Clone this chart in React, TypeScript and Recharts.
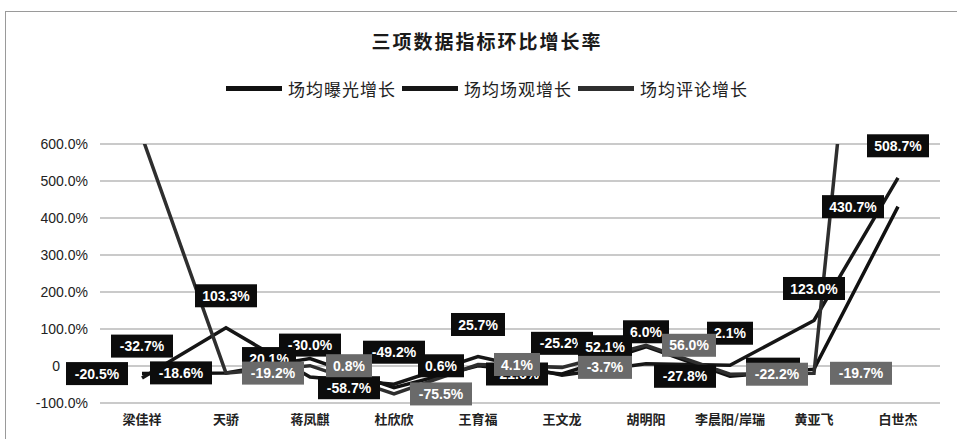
import { LineChart, Line, XAxis, YAxis, CartesianGrid, Legend, LabelList } from 'recharts'

const categories = ['梁佳祥', '天骄', '蒋凤麒', '杜欣欣', '王育福', '王文龙', '胡明阳', '李晨阳/岸瑞', '黄亚飞', '白世杰']
// 环比增长率 (%)
const exposureGrowth = [-20.5, -18.6, 20.1, -58.7, 0.6, -21.6, 52.1, -27.8, -8.5, 430.7]
const viewGrowth = [-32.7, 103.3, -30.0, -49.2, 25.7, -25.2, 6.0, 2.1, 123.0, 508.7]
const commentGrowth = [620, -19.2, 0.8, -75.5, 4.1, -3.7, 56.0, -22.2, -19.7, 2200]
const yTicks = [-100, 0, 100, 200, 300, 400, 500, 600]

const SERIES = [
  { key: 'exposure', name: '场均曝光增长', color: '#111', labelFill: '#0c0c0c', side: 'left' },
  { key: 'view', name: '场均场观增长', color: '#161616', labelFill: '#0c0c0c', side: 'top' },
  { key: 'comment', name: '场均评论增长', color: '#2e2e2e', labelFill: '#6a6a6a', side: 'right' },
] as const

const data = categories.map((name, i) => ({
  name,
  exposure: exposureGrowth[i],
  view: viewGrowth[i],
  comment: commentGrowth[i],
}))

const CJK = '"Noto Sans CJK SC", sans-serif'
const LATIN = '"Liberation Sans", Arial, sans-serif'

const makeLabel = (side: string, fill: string) => (props: any) => {
  const { x, y, value } = props
  if (value == null || value > 600 || value < -100) return null
  const text = `${Number(value).toFixed(1)}%`
  const w = text.length * 8 + 14
  const h = 23
  let cx = x
  let cy = y
  if (side === 'left') cx = x - 14 - w / 2
  if (side === 'right') cx = x + 16 + w / 2
  if (side === 'top') cy = y - 32
  return (
    <g>
      <rect x={cx - w / 2} y={cy - h / 2} width={w} height={h} fill={fill} />
      <text
        x={cx}
        y={cy}
        dy="0.36em"
        textAnchor="middle"
        fill="#fff"
        fontSize={14}
        fontWeight="bold"
        fontFamily={LATIN}
      >
        {text}
      </text>
    </g>
  )
}

// 0 的刻度标签在原图里离轴更远
const YTick = (props: any) => {
  const { x, y, payload } = props
  const v = payload.value
  return (
    <text
      x={v === 0 ? x - 28 : x}
      y={y}
      dy="0.36em"
      textAnchor="end"
      fill="#222"
      fontSize={14}
      fontFamily={LATIN}
    >
      {v === 0 ? '0' : `${v.toFixed(1)}%`}
    </text>
  )
}

const renderLegend = () => (
  <div style={{ display: 'flex', justifyContent: 'center', alignItems: 'center', gap: 6 }}>
    {SERIES.map((s) => (
      <div key={s.key} style={{ display: 'flex', alignItems: 'center' }}>
        <span style={{ display: 'inline-block', width: 56, height: 5, background: s.color, marginRight: 6 }} />
        <span style={{ fontFamily: CJK, fontSize: 17, letterSpacing: 1, color: '#222' }}>{s.name}</span>
      </div>
    ))}
  </div>
)

// 画线顺序: 场观 -> 曝光 -> 评论 (标签叠放顺序)
const drawOrder = [SERIES[1], SERIES[0], SERIES[2]]

export default function App() {
  return (
    <div
      style={{
        position: 'absolute',
        left: 0,
        top: 0,
        width: 957,
        height: 439,
        background: '#fff',
        overflow: 'hidden',
      }}
    >
      <div
        style={{
          position: 'absolute',
          left: 5,
          top: 11,
          width: 952,
          height: 428,
          borderTop: '1px solid #9a9a9a',
          borderLeft: '1px solid #9a9a9a',
        }}
      />
      <div
        style={{
          position: 'absolute',
          top: 27,
          left: 0,
          width: 974,
          textAlign: 'center',
          fontFamily: CJK,
          fontSize: 19,
          fontWeight: 'bold',
          letterSpacing: 2,
          color: '#1a1a1a',
        }}
      >
        三项数据指标环比增长率
      </div>
      <LineChart width={957} height={439} data={data} margin={{ top: 144, right: 17, bottom: 0, left: 0 }}>
        <CartesianGrid vertical={false} stroke="#b9b9b9" strokeWidth={1.5} />
        <XAxis
          dataKey="name"
          interval={0}
          height={36}
          axisLine={false}
          tickLine={false}
          tickSize={0}
          tickMargin={12}
          padding={{ left: 42, right: 42 }}
          tick={{ fontSize: 13, fontWeight: 'bold', fill: '#222', fontFamily: CJK }}
        />
        <YAxis
          width={100}
          domain={[-100, 600]}
          ticks={yTicks}
          allowDataOverflow
          axisLine={false}
          tickLine={false}
          tickSize={0}
          tickMargin={12}
          tick={<YTick />}
        />
        <Legend
          content={renderLegend}
          layout="horizontal"
          verticalAlign="middle"
          wrapperStyle={{ top: 76, left: 0, width: 974, height: 24 }}
        />
        {drawOrder.map((s) => (
          <Line
            key={s.key}
            dataKey={s.key}
            name={s.name}
            stroke={s.color}
            strokeWidth={3.5}
            dot={false}
            activeDot={false}
            isAnimationActive={false}
          >
            <LabelList dataKey={s.key} content={makeLabel(s.side, s.labelFill)} />
          </Line>
        ))}
      </LineChart>
    </div>
  )
}
